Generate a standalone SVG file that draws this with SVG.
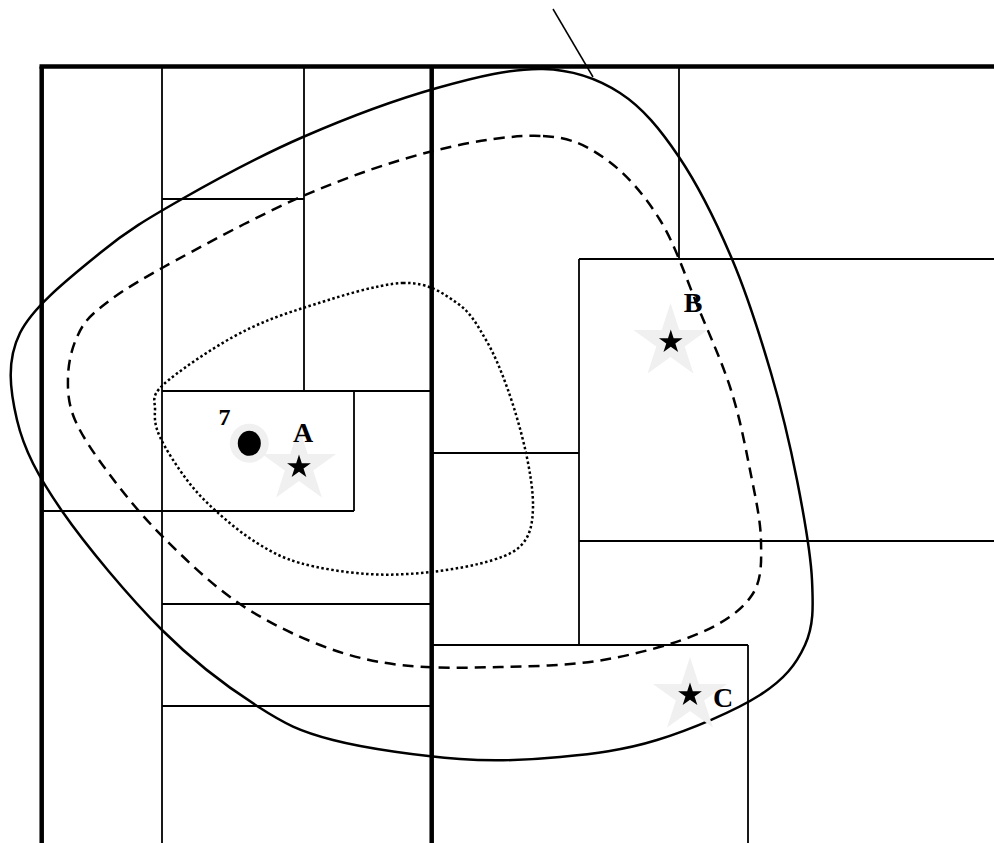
<svg xmlns="http://www.w3.org/2000/svg" xmlns:xlink="http://www.w3.org/1999/xlink" width="994" height="843" viewBox="0 0 994 843">
<style>
.thin{stroke:#000;stroke-width:1.8;fill:none}
.thick{stroke:#000;stroke-width:4.5;fill:none}
.solid{stroke:#000;stroke-width:2.5;fill:none}
.dash{stroke:#000;stroke-width:2.5;fill:none;stroke-dasharray:11,7}
.dot{stroke:#000;stroke-width:2.5;fill:none;stroke-dasharray:2.5,2.5}
.lbl{font-family:"Liberation Serif","Times New Roman",serif;font-weight:bold;fill:#000;text-anchor:middle}
.halo{fill:#f0f0f0}
</style>
<defs>
<path id="bigstar" d="M0,-39 L8.76,-12.05 L37.09,-12.05 L14.17,4.6 L22.92,31.55 L0,14.9 L-22.92,31.55 L-14.17,4.6 L-37.09,-12.05 L-8.76,-12.05 Z"/>
<path id="smallstar" d="M0,-12.5 L2.81,-3.86 L11.89,-3.86 L4.54,1.48 L7.35,10.11 L0,4.78 L-7.35,10.11 L-4.54,1.48 L-11.89,-3.86 L-2.81,-3.86 Z"/>
</defs>
<rect x="0" y="0" width="994" height="843" fill="#fff"/>
<g id="grid">
<line class="thin" x1="162" y1="67" x2="162" y2="843"/>
<line class="thin" x1="304" y1="67" x2="304" y2="391"/>
<line class="thin" x1="162" y1="199" x2="304" y2="199"/>
<line class="thin" x1="162" y1="391" x2="432" y2="391"/>
<line class="thin" x1="354" y1="391" x2="354" y2="511"/>
<line class="thin" x1="42" y1="511" x2="354" y2="511"/>
<line class="thin" x1="162" y1="604" x2="432" y2="604"/>
<line class="thin" x1="162" y1="706" x2="432" y2="706"/>
<line class="thin" x1="679" y1="67" x2="679" y2="259"/>
<line class="thin" x1="579" y1="259" x2="994" y2="259"/>
<line class="thin" x1="579" y1="259" x2="579" y2="645"/>
<line class="thin" x1="579" y1="541" x2="994" y2="541"/>
<line class="thin" x1="432" y1="453" x2="579" y2="453"/>
<line class="thin" x1="432" y1="645" x2="748" y2="645"/>
<line class="thin" x1="748" y1="645" x2="748" y2="843"/>
<line class="thick" x1="39.5" y1="66.5" x2="994" y2="66.5"/>
<line class="thick" x1="41.7" y1="66.5" x2="41.7" y2="843"/>
<line class="thick" x1="431.7" y1="66.5" x2="431.7" y2="843"/>
</g>
<g id="contours">
<path class="solid" d="M543,69 C573.5,69.8 597.3,78.3 620,93 S660.3,129.3 679,157 S716.7,223 732,259 S760.2,336.2 771,373 S790.2,445.5 797,480 S810.7,552.5 812,580 S813.7,625.8 805,645 S784.7,679.2 760,695 S690.3,729.7 657,740 S592.8,753.8 560,757 S497.8,761.8 460,759 S366.8,748.8 333,740 S285.5,724.3 257,706 S194.5,662.5 162,630 S86.2,546 62,511 S24,449.7 17,420 S6.2,360.8 20,333 S73,275.3 100,253 S148.2,218.3 182,199 S260.5,155.5 303,137 S397,99.3 437,88 S512.5,68.2 543,69 Z"/>
<path class="dash" d="M543,136 C572,137.5 587.5,146 607,160 S644.8,195.5 660,220 S686.2,278.7 698,307 S722.3,362.8 731,390 S745,444.8 750,470 S760.7,520.2 761,541 S762.2,579.7 752,595 S724.8,622.2 700,633 S636.3,654.3 603,660 S533.8,666.2 500,667 S430,668.7 400,665 S347.2,655.5 320,645 S263.2,620 237,602 S184.2,558.2 163,537 S124.7,494.5 110,475 S82,436.3 75,420 S67.7,390.8 68,377 S71.7,348.5 77,337 S85.8,319.5 100,308 S128.2,286.7 162,268 S257.8,215.5 303,196 S393,161 433,151 S514,134.5 543,136 Z"/>
<path class="dot" d="M403,283 C428.7,282.2 443.2,293.5 457,303 S477.5,325.5 486,340 S501.3,371.2 508,390 S521.8,433.5 526,453 S533.3,492.2 533,507 S530.7,533.2 524,542 S508.5,555 493,560 S452,569.7 431,572 S388.8,575.5 367,574 S318.3,568.2 300,563 S270.8,551.5 257,543 S228.7,522.5 217,512 S196.5,492.5 187,480 S165.3,448.7 160,437 S154.5,418.7 155,410 S150,397.2 163,385 S209.7,349.8 233,337 S274.7,317 303,308 S377.3,283.8 403,283 Z"/>
<line x1="553" y1="9" x2="593" y2="77" stroke="#000" stroke-width="1.5"/>
</g>
<g id="point-7">
<circle class="halo" cx="249.3" cy="443.3" r="19.5"/>
<ellipse cx="249.3" cy="443.3" rx="11.5" ry="12.5" fill="#000"/>
<text class="lbl" x="224.5" y="425" font-size="24">7</text>
</g>
<g id="site-A">
<use xlink:href="#bigstar" href="#bigstar" x="299" y="466" class="halo"/>
<use xlink:href="#smallstar" href="#smallstar" x="299" y="467" fill="#000"/>
<text class="lbl" x="303" y="441.7" font-size="28">A</text>
</g>
<g id="site-B">
<use xlink:href="#bigstar" href="#bigstar" x="670.5" y="342" class="halo"/>
<use xlink:href="#smallstar" href="#smallstar" x="670.8" y="342" fill="#000"/>
<text class="lbl" x="693" y="311.7" font-size="28">B</text>
</g>
<g id="site-C">
<use xlink:href="#bigstar" href="#bigstar" x="690" y="696" class="halo"/>
<use xlink:href="#smallstar" href="#smallstar" x="690" y="695" fill="#000"/>
<text class="lbl" x="723" y="706.7" font-size="28">C</text>
</g>
</svg>
